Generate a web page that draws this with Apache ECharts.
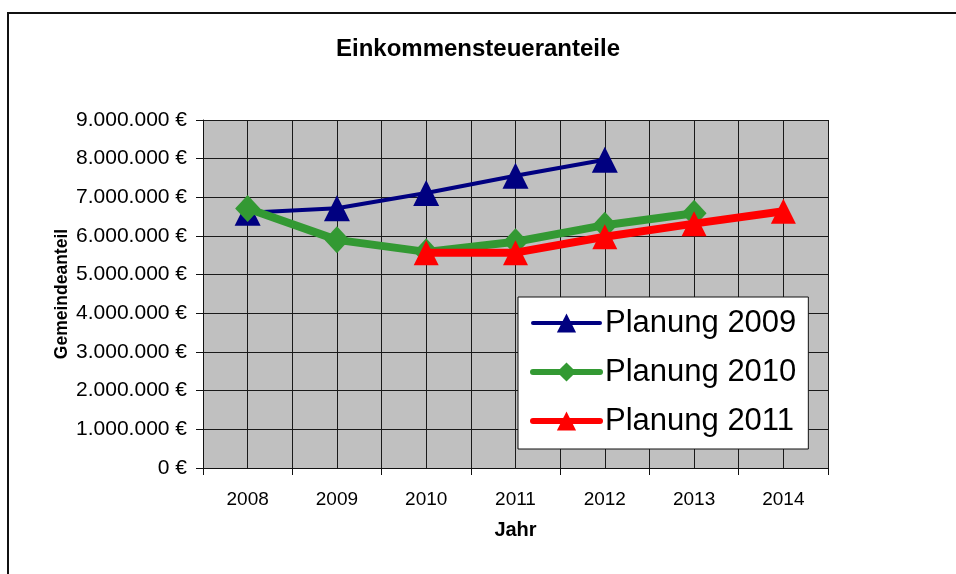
<!DOCTYPE html>
<html>
<head>
<meta charset="utf-8">
<script src="https://cdn.jsdelivr.net/npm/echarts@6/dist/echarts.min.js"></script>
<style>
  html, body { margin: 0; padding: 0; background: #fff; }
  #chart { width: 956px; height: 574px; }
</style>
</head>
<body>
<div id="chart"></div>
<script>
var years = ['2008', '2009', '2010', '2011', '2012', '2013', '2014'];
var plan2009 = [6600000, 6720000, 7110000, 7560000, 7970000, null, null];
var plan2010 = [6710000, 5900000, 5590000, 5850000, 6280000, 6590000, null];
var plan2011 = [null, null, 5570000, 5570000, 5980000, 6320000, 6640000];
var seriesNames = ['Planung 2009', 'Planung 2010', 'Planung 2011'];

var font = "'Liberation Sans', Arial, sans-serif";

function euro(v) {
	return String(v).replace(/\B(?=(\d{3})+(?!\d))/g, '.') + ' €';
}

var myChart = echarts.init(document.getElementById('chart'));
var option = {
	animation: false,
	backgroundColor: '#fff',
	textStyle: { fontFamily: font },
	graphic: [{
		type: 'rect',
		z: -10,
		shape: { x: 8, y: 13, width: 1000, height: 1000 },
		style: { fill: 'none', stroke: '#111', lineWidth: 2 }
	}],
	title: {
		text: 'Einkommensteueranteile',
		left: 'center',
		top: 37,
		padding: 0,
		textStyle: { fontFamily: font, fontSize: 24, fontWeight: 'bold', color: '#000' }
	},
	legend: {
		orient: 'vertical',
		left: 518,
		top: 297,
		padding: [10, 12, 12, 12],
		itemGap: 17,
		itemWidth: 67,
		itemHeight: 24,
		backgroundColor: '#fff',
		borderColor: '#111',
		borderWidth: 1,
		textStyle: { fontFamily: font, fontSize: 31, color: '#000', lineHeight: 32 },
		data: [
			{ name: seriesNames[0], lineStyle: { width: 4, cap: 'round' } },
			{ name: seriesNames[1], lineStyle: { width: 6, cap: 'round' } },
			{ name: seriesNames[2], lineStyle: { width: 6, cap: 'round' } }
		]
	},
	grid: {
		left: 203,
		right: 128,
		top: 120,
		bottom: 106,
		show: true,
		backgroundColor: '#C0C0C0',
		borderWidth: 0
	},
	xAxis: [{
		type: 'category',
		data: years,
		boundaryGap: true,
		name: 'Jahr',
		nameLocation: 'middle',
		nameGap: 52,
		nameMoveOverlap: false,
		nameTextStyle: { fontFamily: font, fontSize: 20, fontWeight: 'bold', color: '#000' },
		axisLine: { lineStyle: { color: '#111', width: 1 } },
		axisTick: { show: true, length: 7, lineStyle: { color: '#111' } },
		axisLabel: { margin: 22, fontFamily: font, fontSize: 19, color: '#000' },
		splitLine: { show: false }
	}, {
		// only used for the vertical grid lines (every half year)
		type: 'value',
		min: 0,
		max: 7,
		interval: 0.5,
		position: 'top',
		axisLine: { show: false },
		axisTick: { show: false },
		axisLabel: { show: false },
		splitLine: { show: true, lineStyle: { color: '#1a1a1a', width: 1 } }
	}],
	yAxis: {
		type: 'value',
		min: 0,
		max: 9000000,
		interval: 1000000,
		name: 'Gemeindeanteil',
		nameLocation: 'middle',
		nameGap: 132,
		nameMoveOverlap: false,
		nameTextStyle: { fontFamily: font, fontSize: 17.5, fontWeight: 'bold', color: '#000' },
		axisLine: { show: true, lineStyle: { color: '#111', width: 1 } },
		axisTick: { show: true, length: 7, lineStyle: { color: '#111' } },
		axisLabel: { margin: 16, fontFamily: font, fontSize: 21, color: '#000', formatter: euro },
		splitLine: { show: true, lineStyle: { color: '#1a1a1a', width: 1 } }
	},
	series: [
		{
			name: seriesNames[0],
			type: 'line',
			data: plan2009,
			symbol: 'triangle',
			symbolSize: 26,
			color: '#000080',
			lineStyle: { width: 4, color: '#000080' },
			itemStyle: { color: '#000080' },
			z: 2
		},
		{
			name: seriesNames[1],
			type: 'line',
			data: plan2010,
			symbol: 'diamond',
			symbolSize: [25, 27],
			color: '#339933',
			lineStyle: { width: 8, color: '#339933' },
			itemStyle: { color: '#339933' },
			z: 3
		},
		{
			name: seriesNames[2],
			type: 'line',
			data: plan2011,
			symbol: 'triangle',
			symbolSize: 25,
			color: '#FF0000',
			lineStyle: { width: 8, color: '#FF0000' },
			itemStyle: { color: '#FF0000' },
			z: 4
		}
	]
};
myChart.setOption(option);
</script>
</body>
</html>
